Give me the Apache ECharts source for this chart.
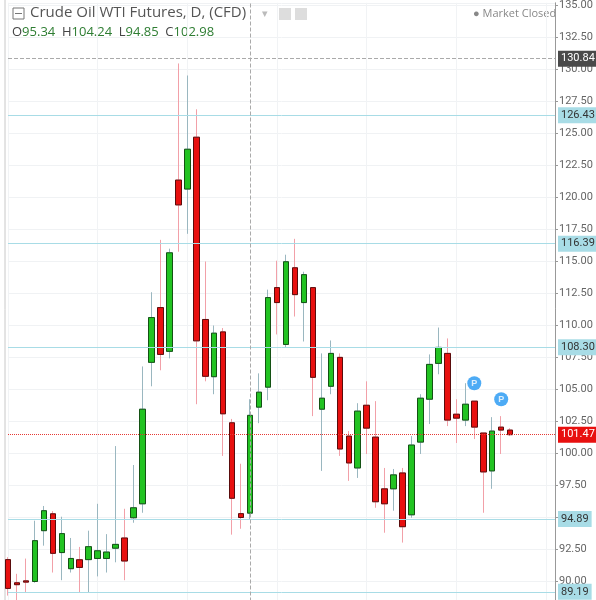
<!DOCTYPE html>
<html><head><meta charset="utf-8">
<script src="https://cdn.jsdelivr.net/npm/echarts@6/dist/echarts.min.js"></script>
<style>html,body{margin:0;padding:0;background:#fff;overflow:hidden;height:600px}#c{width:596px;height:619px}</style>
</head><body><div id="c"></div>
<script>
// [open, close, low, high]
const candles = [
[91.71,89.46,88.9,91.9],[89.9,89.75,88.5,90.6],[90.05,89.95,89.14,91.79],[90.0,93.19,89.9,94.75],
[93.97,95.53,92.8,95.9],[95.29,92.2,90.7,95.5],[92.26,93.74,90.1,95.06],[91.0,91.8,90.7,93.4],
[91.7,91.1,89.14,92.7],[91.71,92.72,89.14,93.97],[91.8,92.4,90.4,96.07],[91.8,92.3,90.7,93.7],
[92.6,92.9,91.5,100.58],[93.4,91.6,90.1,95.68],[94.98,95.76,94.59,99.1],[96.07,103.46,95.37,106.8],
[107.12,110.62,105.25,112.6],[111.4,107.74,106.5,116.69],[107.98,115.68,107.43,116.0],[121.36,119.42,115.76,130.47],
[120.66,123.77,117.16,129.53],[124.71,108.8,103.85,126.89],[110.47,106.03,105.64,115.0],[106.0,109.4,104.63,110.0],
[109.5,103.1,99.81,109.8],[102.4,96.5,93.66,102.7],[95.3,95.0,94.12,99.2],[95.34,102.98,94.85,104.24],
[103.62,104.79,102.37,106.26],[105.18,112.18,104.16,112.8],[112.96,111.79,109.3,115.06],[108.52,114.98,108.3,115.53],
[114.51,112.41,110.7,116.77],[111.79,113.97,108.75,114.2],[112.96,105.95,102.92,113.0],[103.46,104.32,98.64,107.82],
[105.25,107.82,104.63,108.83],[107.51,100.35,99.81,107.82],[101.36,99.26,97.86,101.75],[98.87,103.31,98.09,103.93],
[103.77,101.98,99.96,105.64],[101.28,96.23,95.76,104.09],[97.24,96.07,93.81,98.87],[97.24,98.33,95.53,98.79],
[98.48,94.28,93.04,98.87],[95.21,100.66,94.98,101.36],[100.89,104.32,99.96,104.63],[104.24,106.96,102.3,107.74],
[107.04,108.29,106.19,109.84],[107.82,102.61,102.14,108.99],[103.07,102.76,100.82,104.24],[102.61,103.85,102.14,105.49],
[104.09,102.06,101.13,104.09],[101.6,98.56,95.37,101.6],[98.64,101.75,97.24,102.84],[102.06,101.83,99.96,102.92],
[101.83,101.47,101.36,101.98]
];
const emptySlots = 5;
const levelLines = [126.43,116.39,108.30,94.89,89.19];
const lastPrice = 101.47;
const crossPrice = 130.84;
const crossIndex = 27;
const pMarks = [[52,105.49],[55,104.24]];
const yTicks = {min:87.5, max:135.21, interval:2.5};

const cats = [];
for (let i=0;i<candles.length+emptySlots;i++) cats.push(String(i));
const bodies = candles.map(c=>[c[0],c[1],Math.min(c[0],c[1]),Math.max(c[0],c[1])]);
const chart = echarts.init(document.getElementById('c'));
const lineLbl = {show:true,position:'end',distance:3,color:'#333',fontSize:11,backgroundColor:'#a8dce6',padding:[3,3,2,3],fontFamily:'Roboto'};
chart.setOption({
  animation:false,
  grid:{left:8,right:41,top:0,bottom:0,containLabel:false},
  xAxis:{type:'category',data:cats,boundaryGap:false,axisLine:{show:false},axisTick:{show:false},axisLabel:{show:false},
    splitLine:{show:true,interval:9,lineStyle:{color:'#f1f3f5'}}},
  yAxis:{type:'value',position:'right',min:yTicks.min,max:yTicks.max,interval:yTicks.interval,
    axisLine:{show:true,lineStyle:{color:'#999'}},axisTick:{show:true,length:3,lineStyle:{color:'#999'}},
    axisLabel:{color:'#666',fontSize:11,fontFamily:'Roboto',margin:4,showMaxLabel:false,formatter:v=>v.toFixed(2)},
    splitLine:{lineStyle:{color:'#f0f2f4'}}},
  graphic:[
    {type:'line',shape:{x1:5,y1:0,x2:5,y2:619},style:{stroke:'#c8c8c8',lineWidth:1}},
    {type:'text',left:30,top:5,style:{text:'Crude Oil WTI Futures, D, (CFD)',font:'15px "Open Sans"',fill:'#555'}},
    {type:'rect',shape:{x:13,y:8,width:11,height:11},style:{fill:'none',stroke:'#777',lineWidth:1}},
    {type:'line',shape:{x1:15,y1:13.5,x2:22,y2:13.5},style:{stroke:'#777'}},
    {type:'text',left:262,top:8,style:{text:'▾',font:'11px sans-serif',fill:'#bbb'}},
    {type:'rect',shape:{x:279,y:8,width:12,height:12},style:{fill:'#ddd'}},
    {type:'rect',shape:{x:295,y:8,width:12,height:12},style:{fill:'#ddd'}},
    {type:'text',left:12,top:26,style:{rich:{k:{fill:'#444',font:'13px "Open Sans"'},v:{fill:'#2e7d32',font:'13px "Open Sans"'}},
      text:'{k|O}{v|95.34}  {k|H}{v|104.24}  {k|L}{v|94.85}  {k|C}{v|102.98}'}},
    {type:'text',left:473,top:8,style:{text:'● Market Closed',font:'11px "Open Sans"',fill:'#888'}}
  ],
  series:[
    {type:'candlestick',data:candles,barWidth:6,
      itemStyle:{color:'rgba(0,0,0,0)',color0:'rgba(0,0,0,0)',borderColor:'#9ab7c0',borderColor0:'#f2a0a8',borderWidth:1},
      markLine:{symbol:'none',silent:true,data:[
        ...levelLines.map(v=>({yAxis:v,lineStyle:{color:'#a8dce6',type:'solid',width:1},label:Object.assign({},lineLbl,{formatter:v.toFixed(2)})})),
        {yAxis:lastPrice,lineStyle:{color:'#e53935',type:'dotted',width:1},label:Object.assign({},lineLbl,{color:'#fff',backgroundColor:'#e8100f',formatter:lastPrice.toFixed(2)})},
        {yAxis:crossPrice,lineStyle:{color:'#aaa',type:'dashed',width:1},label:Object.assign({},lineLbl,{color:'#fff',backgroundColor:'#4a4a4a',formatter:crossPrice.toFixed(2)})},
        {xAxis:crossIndex,lineStyle:{color:'#aaa',type:'dashed',width:1},label:{show:false}}
      ]}},
    {type:'candlestick',data:bodies,barWidth:6,
      itemStyle:{color:'#22c322',color0:'#e8100f',borderColor:'#145214',borderColor0:'#5a0c0c',borderWidth:1}},
    {type:'scatter',data:pMarks,symbol:'circle',symbolSize:14,itemStyle:{color:'#2196f3'},
      label:{show:true,position:'inside',formatter:'P',color:'#fff',fontSize:9,fontWeight:'bold'}}
  ]
});
</script></body></html>
